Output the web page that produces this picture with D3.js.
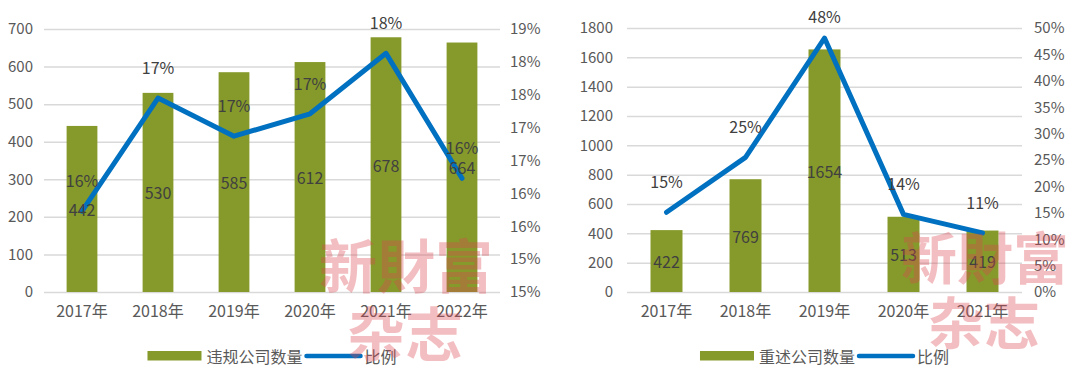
<!DOCTYPE html>
<html>
<head>
<meta charset="utf-8">
<script src="https://cdn.jsdelivr.net/npm/d3@7"></script>
<style>
  body { margin: 0; background: #fff; }
</style>
</head>
<body>
<svg id="chart" width="1080" height="376"></svg>
<script>
// Left chart: companies with violations
const years1 = ["2017年", "2018年", "2019年", "2020年", "2021年", "2022年"];
const violationCounts = [442, 530, 585, 612, 678, 664];
const violationRatio = [0.1623, 0.1795, 0.1737, 0.1771, 0.1863, 0.1673];
const violationRatioLabels = ["16%", "17%", "17%", "17%", "18%", "16%"];
const countTicks1 = [0, 100, 200, 300, 400, 500, 600, 700];
const ratioTicks1 = [0.15, 0.155, 0.16, 0.165, 0.17, 0.175, 0.18, 0.185, 0.19];
const ratioTickLabels1 = ["15%", "15%", "16%", "16%", "17%", "17%", "18%", "18%", "19%"];

// Right chart: companies with restatements
const years2 = ["2017年", "2018年", "2019年", "2020年", "2021年"];
const restatementCounts = [422, 769, 1654, 513, 419];
const restatementRatio = [0.151, 0.255, 0.481, 0.147, 0.112];
const restatementRatioLabels = ["15%", "25%", "48%", "14%", "11%"];
const countTicks2 = [0, 200, 400, 600, 800, 1000, 1200, 1400, 1600, 1800];
const ratioTicks2 = [0, 0.05, 0.1, 0.15, 0.2, 0.25, 0.3, 0.35, 0.4, 0.45, 0.5];
const ratioTickLabels2 = ["0%", "5%", "10%", "15%", "20%", "25%", "30%", "35%", "40%", "45%", "50%"];

const legendBar1 = "违规公司数量";
const legendBar2 = "重述公司数量";
const legendLine = "比例";
const watermarkLines = ["新財富", "杂志"];

const FONT = '"Noto Sans CJK SC", "Noto Sans", sans-serif';
const COLORS = {
    bar: "#869a2b",
    line: "#0070c0",
    grid: "#d9d9d9",
    axisText: "#595959",
    labelText: "#404040",
    watermark: "#d9444e"
};

const svg = d3.select("#chart");

function styleAxis(sel, size = 15) {
    sel.select(".domain").remove();
    sel.attr("font-family", FONT).attr("font-size", size);
    sel.selectAll("text").attr("fill", COLORS.axisText);
}

function drawPanel(o) {
    const g = svg.append("g");

    const x = d3.scaleBand()
        .domain(o.cats)
        .range([o.left, o.right])
        .paddingInner(0.595)
        .paddingOuter(0.2975);
    const y = d3.scaleLinear()
        .domain([0, d3.max(o.countTicks)])
        .range([o.bottom, o.top]);
    const y2 = d3.scaleLinear()
        .domain(d3.extent(o.ratioTicks))
        .range([o.bottom, o.top]);
    const cx = c => x(c) + x.bandwidth() / 2;

    // gridlines
    g.append("g")
        .attr("transform", `translate(${o.left},0)`)
        .call(d3.axisLeft(y).tickValues(o.countTicks).tickSize(-(o.right - o.left)).tickFormat(""))
        .call(s => s.select(".domain").remove())
        .selectAll("line")
        .attr("stroke", COLORS.grid)
        .attr("stroke-width", 1.5);

    // left axis
    g.append("g")
        .attr("transform", `translate(${o.left},0)`)
        .call(d3.axisLeft(y).tickValues(o.countTicks).tickSize(0).tickPadding(o.padLeft).tickFormat(d3.format("d")))
        .call(s => styleAxis(s));

    // right axis
    g.append("g")
        .attr("transform", `translate(${o.right},0)`)
        .call(d3.axisRight(y2).tickValues(o.ratioTicks).tickSize(0).tickPadding(o.padRight)
            .tickFormat((d, i) => o.ratioTickLabels[i]))
        .call(s => styleAxis(s));

    // x axis
    g.append("g")
        .attr("transform", `translate(0,${o.bottom})`)
        .call(d3.axisBottom(x).tickSize(0).tickPadding(14))
        .call(s => styleAxis(s, 16));

    // bars
    g.selectAll(".bar")
        .data(o.counts)
        .join("rect")
        .attr("x", (d, i) => x(o.cats[i]))
        .attr("y", d => y(d))
        .attr("width", x.bandwidth())
        .attr("height", d => o.bottom - y(d))
        .attr("fill", COLORS.bar);

    // ratio line
    const line = d3.line()
        .x((d, i) => cx(o.cats[i]))
        .y(d => y2(d));
    g.append("path")
        .datum(o.ratio)
        .attr("d", line)
        .attr("fill", "none")
        .attr("stroke", COLORS.line)
        .attr("stroke-width", 5)
        .attr("stroke-linejoin", "round")
        .attr("stroke-linecap", "round");

    // bar value labels
    g.selectAll(".bar-label")
        .data(o.counts)
        .join("text")
        .attr("x", (d, i) => cx(o.cats[i]))
        .attr("y", d => (y(d) + o.bottom) / 2)
        .attr("text-anchor", "middle")
        .attr("dominant-baseline", "central")
        .attr("font-family", FONT)
        .attr("font-size", 16)
        .attr("fill", COLORS.labelText)
        .text(d => d);

    // ratio labels
    g.selectAll(".ratio-label")
        .data(o.ratio)
        .join("text")
        .attr("x", (d, i) => cx(o.cats[i]))
        .attr("y", d => Math.max(o.top - 12, y2(d) - 31))
        .attr("text-anchor", "middle")
        .attr("dominant-baseline", "central")
        .attr("font-family", FONT)
        .attr("font-size", 16)
        .attr("fill", COLORS.labelText)
        .text((d, i) => o.ratioLabels[i]);

    // legend
    const lg = g.append("g");
    lg.append("rect")
        .attr("x", 0).attr("y", -5)
        .attr("width", 54).attr("height", 9.5)
        .attr("fill", COLORS.bar);
    const t1 = lg.append("text")
        .attr("x", 59).attr("y", 0)
        .attr("dominant-baseline", "central")
        .attr("font-family", FONT).attr("font-size", 16)
        .attr("fill", COLORS.axisText)
        .text(o.legendBar);
    const lx = 59 + t1.node().getComputedTextLength() + 4;
    lg.append("line")
        .attr("x1", lx).attr("x2", lx + 54)
        .attr("y1", 0).attr("y2", 0)
        .attr("stroke", COLORS.line)
        .attr("stroke-width", 4.5)
        .attr("stroke-linecap", "round");
    const t2 = lg.append("text")
        .attr("x", lx + 58).attr("y", 0)
        .attr("dominant-baseline", "central")
        .attr("font-family", FONT).attr("font-size", 16)
        .attr("fill", COLORS.axisText)
        .text(legendLine);
    const total = lx + 58 + t2.node().getComputedTextLength();
    lg.attr("transform", `translate(${(o.left + o.right) / 2 - total / 2},356)`);

    // watermark
    g.selectAll(".wm")
        .data(watermarkLines)
        .join("text")
        .attr("x", (d, i) => o.wm[i][0])
        .attr("y", (d, i) => o.wm[i][1])
        .attr("text-anchor", "middle")
        .attr("dominant-baseline", "central")
        .attr("font-family", FONT)
        .attr("font-weight", "bold")
        .attr("font-size", o.wmSize)
        .attr("fill", COLORS.watermark)
        .attr("fill-opacity", 0.35)
        .text(d => d);
}

drawPanel({
    cats: years1, counts: violationCounts, ratio: violationRatio, ratioLabels: violationRatioLabels,
    countTicks: countTicks1, ratioTicks: ratioTicks1, ratioTickLabels: ratioTickLabels1,
    left: 44, right: 500, top: 29, bottom: 292, padLeft: 11, padRight: 10,
    legendBar: legendBar1, wm: [[406, 263], [405, 331]], wmSize: 58
});

drawPanel({
    cats: years2, counts: restatementCounts, ratio: restatementRatio, ratioLabels: restatementRatioLabels,
    countTicks: countTicks2, ratioTicks: ratioTicks2, ratioTickLabels: ratioTickLabels2,
    left: 627, right: 1022, top: 28, bottom: 292, padLeft: 14, padRight: 12,
    legendBar: legendBar2, wm: [[985, 254], [984, 319]], wmSize: 56
});
</script>
</body>
</html>
